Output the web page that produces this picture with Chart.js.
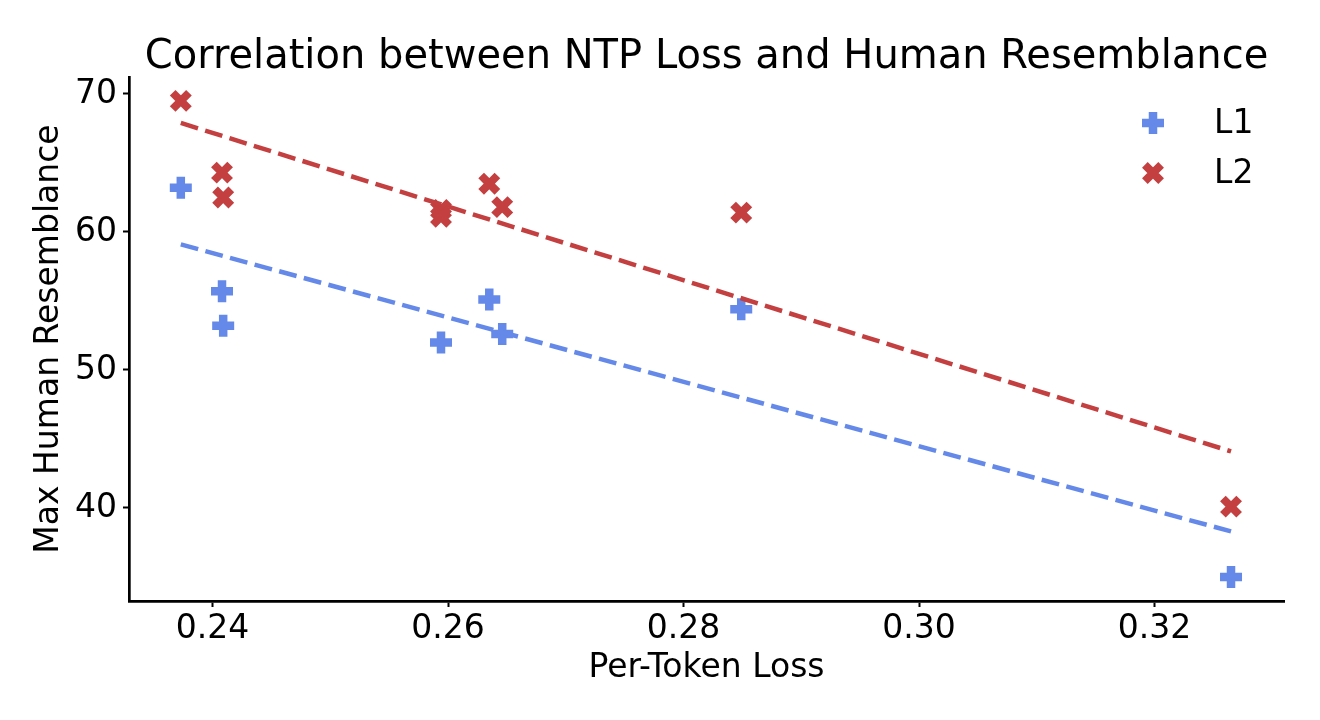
<!DOCTYPE html>
<html>
<head>
<meta charset="utf-8">
<script src="https://cdn.jsdelivr.net/npm/chart.js@4.4.1/dist/chart.umd.min.js"></script>
<style>
html,body{margin:0;padding:0;background:#fff;}
canvas{display:block;}
</style>
</head>
<body>
<canvas id="c" width="1320" height="720"></canvas>
<script>
// ---- data ----
const l1Loss = [0.2373, 0.2408, 0.2409, 0.2594, 0.2635, 0.2646, 0.2849, 0.3265];
const l1Resemblance = [63.2, 55.7, 53.2, 52.0, 55.1, 52.6, 54.4, 35.0];
const l2Loss = [0.2373, 0.2408, 0.2409, 0.2594, 0.2594, 0.2635, 0.2646, 0.2849, 0.3265];
const l2Resemblance = [69.5, 64.3, 62.5, 61.6, 61.1, 63.5, 61.8, 61.4, 40.1];
const l1TrendLoss = [0.2373, 0.3265];
const l1TrendValue = [59.1, 38.3];
const l2TrendLoss = [0.2373, 0.3265];
const l2TrendValue = [67.9, 44.1];
const xTickValues = [0.24, 0.26, 0.28, 0.30, 0.32];
const yTickValues = [40, 50, 60, 70];
const seriesNames = ['L1', 'L2'];
const titleText = 'Correlation between NTP Loss and Human Resemblance';

const BLUE = '#6489E9';
const RED = '#C43F3F';
const FONT = "'DejaVu Sans', sans-serif";

const toPts = (xs, ys) => xs.map((x, i) => ({x, y: ys[i]}));

const titlePlugin = {
  id: 'mplTitle',
  afterDraw(chart) {
    const ctx = chart.ctx;
    ctx.save();
    ctx.fillStyle = '#000';
    ctx.font = "40px " + FONT;
    ctx.textAlign = 'center';
    ctx.textBaseline = 'alphabetic';
    const a = chart.chartArea;
    ctx.fillText(titleText, (a.left + a.right) / 2, 68);
    ctx.restore();
  }
};

const legendPlugin = {
  id: 'mplLegend',
  afterDraw(chart) {
    const ctx = chart.ctx;
    const items = [2, 3];
    ctx.save();
    items.forEach((di, k) => {
      const ds = chart.data.datasets[di];
      const y = 123 + k * 50;
      const x = 1153;
      ctx.strokeStyle = ds.borderColor;
      ctx.lineWidth = ds.borderWidth;
      ctx.beginPath();
      if (ds.pointStyle === 'cross') {
        ctx.moveTo(x - ds.pointRadius, y); ctx.lineTo(x + ds.pointRadius, y);
        ctx.moveTo(x, y - ds.pointRadius); ctx.lineTo(x, y + ds.pointRadius);
      } else {
        const o = Math.cos(Math.PI / 4) * ds.pointRadius;
        ctx.moveTo(x - o, y - o); ctx.lineTo(x + o, y + o);
        ctx.moveTo(x - o, y + o); ctx.lineTo(x + o, y - o);
      }
      ctx.stroke();
      ctx.fillStyle = '#000';
      ctx.font = "33px " + FONT;
      ctx.textAlign = 'left';
      ctx.textBaseline = 'middle';
      ctx.fillText(ds.label, 1214, y + 1);
    });
    ctx.restore();
  }
};

new Chart(document.getElementById('c'), {
  type: 'scatter',
  data: {
    datasets: [
      {
        label: 'L1 trend', data: toPts(l1TrendLoss, l1TrendValue), showLine: true,
        borderColor: BLUE, borderWidth: 4.5, borderDash: [18, 7.5], pointRadius: 0,
        pointHoverRadius: 0, order: 0
      },
      {
        label: 'L2 trend', data: toPts(l2TrendLoss, l2TrendValue), showLine: true,
        borderColor: RED, borderWidth: 4.5, borderDash: [18, 7.5], pointRadius: 0,
        pointHoverRadius: 0, order: 0
      },
      {
        label: seriesNames[0], data: toPts(l1Loss, l1Resemblance),
        pointStyle: 'cross', pointRadius: 11, borderWidth: 8.5,
        borderColor: BLUE, backgroundColor: BLUE, order: 2
      },
      {
        label: seriesNames[1], data: toPts(l2Loss, l2Resemblance),
        pointStyle: 'crossRot', pointRadius: 11.5, borderWidth: 8,
        borderColor: RED, backgroundColor: RED, order: 1
      }
    ]
  },
  options: {
    responsive: false,
    animation: false,
    devicePixelRatio: 1,
    layout: {padding: {top: 77, right: 36, left: 0, bottom: 0}},
    plugins: {legend: {display: false}, title: {display: false}, tooltip: {enabled: false}},
    scales: {
      x: {
        type: 'linear', min: 0.2329, max: 0.3310,
        afterFit: s => { s.height = 119; },
        afterBuildTicks: s => { s.ticks = xTickValues.map(v => ({value: v})); },
        border: {display: true, color: '#000', width: 2.7},
        grid: {drawOnChartArea: false, drawTicks: true, tickLength: 6, tickWidth: 2, tickColor: '#000'},
        ticks: {color: '#000', font: {family: FONT, size: 33}, padding: 3, maxRotation: 0,
          callback: v => Number(v).toFixed(2)},
        title: {display: true, text: 'Per-Token Loss', color: '#000',
          font: {family: FONT, size: 33}, padding: {top: 0, bottom: 32}}
      },
      y: {
        type: 'linear', min: 33.26, max: 71.23,
        afterFit: s => { s.width = 129; },
        afterBuildTicks: s => { s.ticks = yTickValues.map(v => ({value: v})); },
        border: {display: true, color: '#000', width: 2.7},
        grid: {drawOnChartArea: false, drawTicks: true, tickLength: 6, tickWidth: 2, tickColor: '#000'},
        ticks: {color: '#000', font: {family: FONT, size: 33}, padding: 6,
          callback: v => String(v)},
        title: {display: true, text: 'Max Human Resemblance', color: '#000',
          font: {family: FONT, size: 33}, padding: {top: 30, bottom: 0}}
      }
    }
  },
  plugins: [titlePlugin, legendPlugin]
});
</script>
</body>
</html>
